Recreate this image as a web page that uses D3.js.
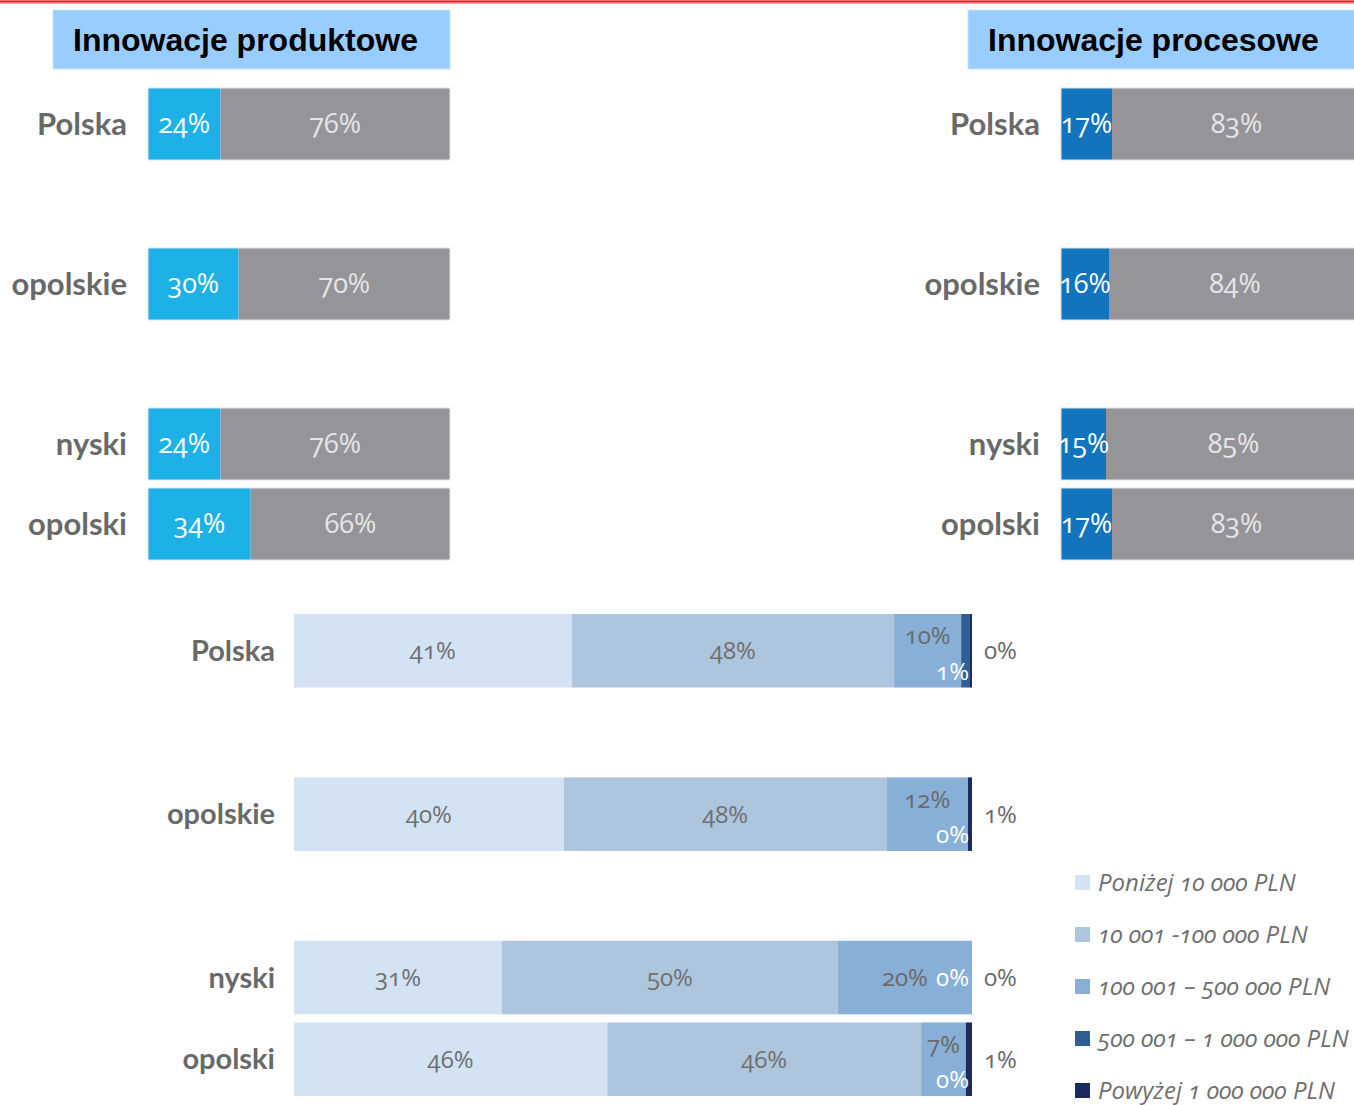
<!DOCTYPE html>
<html>
<head>
<meta charset="utf-8">
<script src="https://cdn.jsdelivr.net/npm/d3@7"></script>
<style>
  body { margin: 0; background: #fff; }
  svg { display: block; font-family: "Open Sans", sans-serif; }
  .num { font-feature-settings: "onum" 1; font-variant-numeric: oldstyle-nums; }
</style>
</head>
<body>
<div id="chart"></div>
<script>
// rows of every panel (gaps are empty band slots)
const categories = ["Polska", "opolskie", "nyski", "opolski"];
const rowSlots = ["Polska", "gap1", "opolskie", "gap2", "nyski", "opolski"];

// Innowacje produktowe: share with / without
const productYes = [24, 30, 24, 34];
const productNo = [76, 70, 76, 66];

// Innowacje procesowe: share with / without
const processYes = [17, 16, 15, 17];
const processNo = [83, 84, 85, 83];

// outlay classes
const costClasses = [
  "Poniżej 10 000 PLN",
  "10 001 -100 000 PLN",
  "100 001 – 500 000 PLN",
  "500 001 – 1 000 000 PLN",
  "Powyżej 1 000 000 PLN"
];
const costBelow10k = [41.0, 39.8, 30.7, 46.2];
const cost10kTo100k = [47.6, 47.6, 49.6, 46.3];
const cost100kTo500k = [9.9, 12.0, 19.8, 6.6];
const cost500kTo1m = [1.2, 0.0, 0.0, 0.0];
const costAbove1m = [0.4, 0.6, 0.0, 0.9];

const costColors = ["#d3e3f4", "#aec5de", "#88afd6", "#2f5f94", "#1c2b5e"];

const width = 1354, height = 1105;
const svg = d3.select("#chart").append("svg")
  .attr("width", width)
  .attr("height", height);

// red rule at the top
svg.append("rect").attr("x", 0).attr("y", 0).attr("width", width).attr("height", 4).attr("fill", "#f6b8bb");
svg.append("rect").attr("x", 0).attr("y", 0.5).attr("width", width).attr("height", 2).attr("fill", "#e3202a");

// title boxes
function titleBox(x, w, text) {
  svg.append("rect")
    .attr("x", x).attr("y", 10).attr("width", w).attr("height", 59)
    .attr("fill", "#99ccff").attr("stroke", "#c9e4f0").attr("stroke-width", 1);
  svg.append("text")
    .attr("x", x + 20).attr("y", 51)
    .attr("font-family", "'Liberation Sans', Arial, sans-serif")
    .attr("font-weight", "bold").attr("font-size", 32)
    .attr("fill", "#000")
    .text(text);
}
titleBox(53, 397, "Innowacje produktowe");
titleBox(968, 400, "Innowacje procesowe");

// small two-part bar panel
function yesNoPanel(x0, w, yesValues, noValues, yesColor) {
  let rows = categories.map((c, i) => ({ cat: c, yes: yesValues[i], no: noValues[i] }));

  let x = d3.scaleLinear().domain([0, 100]).range([x0, x0 + w]);
  let y = d3.scaleBand().domain(rowSlots).range([88, 560]).paddingInner(0.1).paddingOuter(0);

  let g = svg.append("g");
  let row = g.selectAll("g.row").data(rows).join("g").attr("class", "row");

  row.append("rect")
    .attr("x", x(0)).attr("y", d => y(d.cat))
    .attr("width", d => x(d.yes) - x(0)).attr("height", y.bandwidth())
    .attr("fill", yesColor);
  row.append("rect")
    .attr("x", d => x(d.yes)).attr("y", d => y(d.cat))
    .attr("width", d => x(d.yes + d.no) - x(d.yes)).attr("height", y.bandwidth())
    .attr("fill", "#959599");
  row.append("rect")
    .attr("x", x(0)).attr("y", d => y(d.cat))
    .attr("width", d => x(d.yes + d.no) - x(0)).attr("height", y.bandwidth())
    .attr("fill", "none").attr("stroke", "#e4e4e4").attr("stroke-width", 1);

  row.append("text")
    .attr("class", "num")
    .attr("x", d => (x(0) + x(d.yes)) / 2).attr("y", d => y(d.cat) + y.bandwidth() / 2)
    .attr("dy", "0.35em").attr("text-anchor", "middle")
    .attr("font-size", 27).attr("fill", "#fff")
    .text(d => d.yes + "%");
  row.append("text")
    .attr("class", "num")
    .attr("x", d => (x(d.yes) + x(d.yes + d.no)) / 2).attr("y", d => y(d.cat) + y.bandwidth() / 2)
    .attr("dy", "0.35em").attr("text-anchor", "middle")
    .attr("font-size", 27).attr("fill", "#e6e6e6")
    .text(d => d.no + "%");

  row.append("text")
    .attr("x", x0 - 21).attr("y", d => y(d.cat) + y.bandwidth() / 2)
    .attr("dy", "0.35em").attr("text-anchor", "end")
    .attr("font-family", "Lato, sans-serif").attr("font-weight", "bold")
    .attr("font-size", 31).attr("fill", "#696969")
    .text(d => d.cat);
}
yesNoPanel(148, 302, productYes, productNo, "#1db1e6");
yesNoPanel(1061, 300, processYes, processNo, "#1274bd");

// 100% stacked bars of outlays
let costRows = categories.map((c, i) => ({
  cat: c,
  0: costBelow10k[i], 1: cost10kTo100k[i], 2: cost100kTo500k[i], 3: cost500kTo1m[i], 4: costAbove1m[i]
}));
let series = d3.stack().keys([0, 1, 2, 3, 4]).offset(d3.stackOffsetExpand)(costRows);

let xc = d3.scaleLinear().domain([0, 1]).range([294, 972]);
let yc = d3.scaleBand().domain(rowSlots).range([614, 1096]).paddingInner(0.1).paddingOuter(0);
let bw = yc.bandwidth();

let cg = svg.append("g");
cg.selectAll("g.layer").data(series).join("g")
  .attr("class", "layer")
  .attr("fill", (d, i) => costColors[i])
  .selectAll("rect").data(d => d).join("rect")
  .attr("x", d => xc(d[0])).attr("y", d => yc(d.data.cat))
  .attr("width", d => xc(d[1]) - xc(d[0])).attr("height", bw);

// labels
costRows.forEach((r, i) => {
  let top = yc(r.cat), mid = top + bw / 2;
  let s = k => series[k][i];
  let third = s(2);
  let thirdNarrow = xc(third[1]) - xc(third[0]) < 100;

  [0, 1].forEach(k => {
    cg.append("text").attr("class", "num")
      .attr("x", (xc(s(k)[0]) + xc(s(k)[1])) / 2).attr("y", mid)
      .attr("dy", "0.35em").attr("text-anchor", "middle")
      .attr("font-size", 24).attr("fill", "#707070")
      .text(Math.round(r[k]) + "%");
  });

  cg.append("text").attr("class", "num")
    .attr("x", (xc(third[0]) + xc(third[1])) / 2).attr("y", thirdNarrow ? top + 22 : mid)
    .attr("dy", "0.35em").attr("text-anchor", "middle")
    .attr("font-size", 24).attr("fill", "#6a6a6a")
    .text(Math.round(r[2]) + "%");

  cg.append("text").attr("class", "num")
    .attr("x", xc(1) - 3).attr("y", thirdNarrow ? top + bw - 16 : mid)
    .attr("dy", "0.35em").attr("text-anchor", "end")
    .attr("font-size", 24).attr("fill", "#fff")
    .text(Math.round(r[3]) + "%");

  cg.append("text").attr("class", "num")
    .attr("x", xc(1) + 12).attr("y", mid)
    .attr("dy", "0.35em").attr("text-anchor", "start")
    .attr("font-size", 24).attr("fill", "#6a6a6a")
    .text(Math.round(r[4]) + "%");

  cg.append("text")
    .attr("x", 275).attr("y", mid)
    .attr("dy", "0.35em").attr("text-anchor", "end")
    .attr("font-family", "Lato, sans-serif").attr("font-weight", "bold")
    .attr("font-size", 29).attr("fill", "#696969")
    .text(r.cat);
});

// legend
let legend = svg.append("g").attr("transform", "translate(1075,883)");
let item = legend.selectAll("g").data(costClasses).join("g")
  .attr("transform", (d, i) => "translate(0," + i * 52 + ")");
item.append("rect")
  .attr("x", 0).attr("y", -8).attr("width", 15).attr("height", 15)
  .attr("fill", (d, i) => costColors[i]);
item.append("text")
  .attr("class", "num")
  .attr("x", 23).attr("y", 0).attr("dy", "0.35em")
  .attr("font-style", "italic").attr("font-size", 24).attr("fill", "#707070")
  .text(d => d);
</script>
</body>
</html>
